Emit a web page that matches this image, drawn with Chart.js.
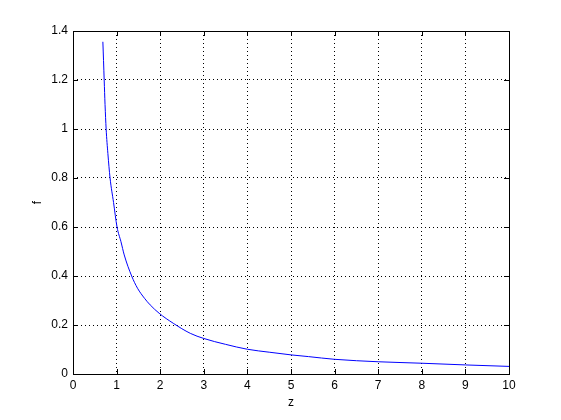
<!DOCTYPE html>
<html>
<head>
<meta charset="utf-8">
<script src="https://cdn.jsdelivr.net/npm/chart.js@4"></script>
<style>
  html, body { margin: 0; padding: 0; background: #fff; }
  #wrap { width: 561px; height: 420px; }
</style>
</head>
<body>
<div id="wrap"><canvas id="plot"></canvas></div>
<script>
// values
const zValues = [0.685, 0.70, 0.715, 0.735, 0.76, 0.80, 0.85, 0.93, 1.01, 1.10, 1.175, 1.345, 1.48,
                 1.64, 1.77, 1.975, 2.30, 2.69, 3.0, 3.5, 4.0, 4.5, 5.0, 5.4, 6.0, 7.0, 8.0, 9.0, 10.0];
const fValues = [1.356, 1.28, 1.2, 1.1, 1.0, 0.9, 0.8, 0.7, 0.6, 0.54, 0.486, 0.40, 0.35,
                 0.309, 0.282, 0.248, 0.207, 0.166, 0.145, 0.121, 0.101, 0.089, 0.078, 0.071,
                 0.06, 0.05, 0.044, 0.037, 0.031];
const xTicks = [0, 1, 2, 3, 4, 5, 6, 7, 8, 9, 10];
const yTicks = [0, 0.2, 0.4, 0.6, 0.8, 1, 1.2, 1.4];

const points = zValues.map((z, i) => ({ x: z, y: fValues[i] }));
const font = { family: 'Liberation Sans, Arial, sans-serif', size: 12 };

// box round the axes and inward tick marks, like matlab
const boxPlugin = {
    id: 'box',
    afterDraw(chart) {
        const ctx = chart.ctx;
        const a = chart.chartArea;
        const xs = chart.scales.x, ys = chart.scales.y;
        const len = 5;
        ctx.save();
        ctx.strokeStyle = '#000';
        ctx.lineWidth = 1;
        ctx.beginPath();
        xTicks.forEach(v => {
            const px = Math.round(xs.getPixelForValue(v)) + 0.5;
            ctx.moveTo(px, a.bottom); ctx.lineTo(px, a.bottom - len);
            ctx.moveTo(px, a.top); ctx.lineTo(px, a.top + len);
        });
        yTicks.forEach(v => {
            const py = Math.round(ys.getPixelForValue(v)) + 0.5;
            ctx.moveTo(a.left, py); ctx.lineTo(a.left + len, py);
            ctx.moveTo(a.right, py); ctx.lineTo(a.right - len, py);
        });
        ctx.stroke();
        ctx.strokeRect(Math.round(a.left) + 0.5, Math.round(a.top) + 0.5,
                       Math.round(a.right - a.left), Math.round(a.bottom - a.top));
        ctx.restore();
    }
};

new Chart(document.getElementById('plot'), {
    type: 'scatter',
    data: {
        datasets: [{
            data: points,
            showLine: true,
            borderColor: '#0000ff',
            borderWidth: 1,
            pointRadius: 0,
            cubicInterpolationMode: 'monotone'
        }]
    },
    options: {
        responsive: true,
        maintainAspectRatio: false,
        animation: false,
        layout: { padding: { top: 31, right: 52, left: 0, bottom: 0 } },
        plugins: { legend: { display: false }, tooltip: { enabled: false } },
        scales: {
            x: {
                type: 'linear',
                min: 0,
                max: 10,
                afterFit: s => { s.height = 46; },
                afterBuildTicks: s => { s.ticks = xTicks.map(v => ({ value: v })); },
                ticks: { color: '#000', font: font, padding: 4, maxRotation: 0 },
                grid: { color: '#000', lineWidth: 1, drawTicks: false, tickLength: 0 },
                border: { display: false, dash: [1, 3] },
                title: { display: true, text: 'z', color: '#000', font: font, padding: { top: 0, bottom: 10 } }
            },
            y: {
                type: 'linear',
                min: 0,
                max: 1.4,
                afterFit: s => { s.width = 73; },
                afterBuildTicks: s => { s.ticks = yTicks.map(v => ({ value: v })); },
                ticks: {
                    color: '#000', font: font, padding: 5,
                    callback: v => String(Math.round(v * 10) / 10)
                },
                grid: { color: '#000', lineWidth: 1, drawTicks: false, tickLength: 0 },
                border: { display: false, dash: [1, 3] },
                title: { display: true, text: 'f', color: '#000', font: font, padding: { top: 30, bottom: 0 } }
            }
        }
    },
    plugins: [boxPlugin]
});
</script>
</body>
</html>
